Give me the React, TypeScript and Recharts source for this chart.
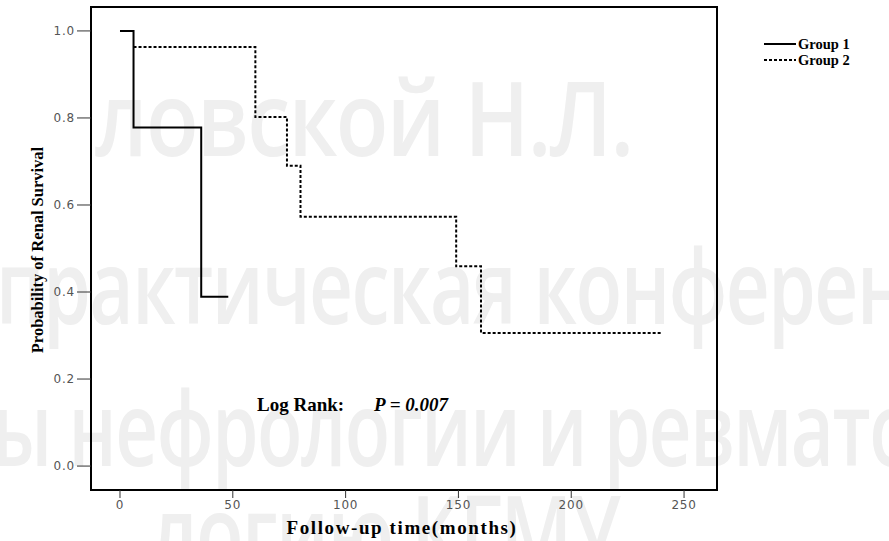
import React from "react";
import { LineChart, Line, XAxis, YAxis, ReferenceArea } from "recharts";

// Kaplan-Meier step points
const group1Times = [0, 6, 36, 48];
const group1Surv = [1.0, 0.778, 0.389, 0.389];
const group2Times = [6, 60, 74, 80, 149, 160, 240];
const group2Surv = [0.963, 0.802, 0.69, 0.573, 0.459, 0.306, 0.306];

const xTicks = [0, 50, 100, 150, 200, 250];
const yTicks = [0, 0.2, 0.4, 0.6, 0.8, 1.0];

// faint background watermark lines
const watermark = [
  { text: "ловской Н.Л.", x: 95, y: 64, sx: 0.83 },
  { text: "практическая конферен", x: -4, y: 232, sx: 0.735 },
  { text: "ы нефрологии и ревмато", x: -8, y: 374, sx: 0.715 },
  { text: "логию КГМУ", x: 150, y: 478, sx: 0.75 },
];

const group1 = group1Times.map((t, i) => ({ t, s: group1Surv[i] }));
const group2 = group2Times.map((t, i) => ({ t, s: group2Surv[i] }));

const serif = "'Liberation Serif', 'Times New Roman', serif";
const tickStyle = { fill: "#555", fontSize: 12, letterSpacing: 0.8, fontFamily: "'DejaVu Sans', sans-serif" };

export default function App() {
  return (
    <div style={{ position: "absolute", left: 0, top: 0, width: 889, height: 541, background: "#fff", overflow: "hidden" }}>
      {watermark.map((w) => (
        <div
          key={w.text}
          style={{
            position: "absolute",
            left: w.x,
            top: w.y,
            fontFamily: "'Open Sans', sans-serif",
            fontWeight: 600,
            fontSize: 104,
            color: "#efefef",
            whiteSpace: "nowrap",
            lineHeight: 1,
            letterSpacing: -2,
            transform: `scaleX(${w.sx})`,
            transformOrigin: "left top",
          }}
        >
          {w.text}
        </div>
      ))}
      <div style={{ position: "absolute", left: 0, top: 0 }}>
        <LineChart width={889} height={541} margin={{ top: 7, right: 172, bottom: 21, left: 41 }}>
          <XAxis
            type="number"
            dataKey="t"
            domain={[-12.85, 264.6]}
            ticks={xTicks}
            allowDataOverflow
            height={30}
            axisLine={false}
            tickLine={{ stroke: "#333" }}
            tickSize={8}
            tick={tickStyle}
          />
          <YAxis
            type="number"
            dataKey="s"
            domain={[-0.055, 1.055]}
            ticks={yTicks}
            allowDataOverflow
            width={50}
            axisLine={false}
            tickLine={{ stroke: "#333" }}
            tickSize={14}
            tick={tickStyle}
            tickFormatter={(v: number) => v.toFixed(1)}
          />
          <ReferenceArea
            x1={-12.85}
            x2={264.6}
            y1={-0.055}
            y2={1.055}
            stroke="#000"
            strokeWidth={2}
            fill="none"
            fillOpacity={0}
          />
          <Line
            data={group1}
            dataKey="s"
            type="stepAfter"
            stroke="#000"
            strokeWidth={2}
            dot={false}
            isAnimationActive={false}
          />
          <Line
            data={group2}
            dataKey="s"
            type="stepAfter"
            stroke="#000"
            strokeWidth={2}
            strokeDasharray="3 2"
            dot={false}
            isAnimationActive={false}
          />
        </LineChart>
      </div>
      <div
        style={{
          position: "absolute",
          left: 38,
          top: 250,
          transform: "translate(-50%, -50%) rotate(-90deg)",
          fontFamily: serif,
          fontWeight: 700,
          fontSize: 16.5,
          whiteSpace: "nowrap",
        }}
      >
        Probability of Renal Survival
      </div>
      <div
        style={{
          position: "absolute",
          left: 402,
          top: 528,
          transform: "translate(-50%, -50%)",
          fontFamily: serif,
          fontWeight: 700,
          fontSize: 19,
          letterSpacing: 1.6,
          whiteSpace: "nowrap",
        }}
      >
        Follow-up time(months)
      </div>
      <div
        style={{
          position: "absolute",
          left: 257,
          top: 405,
          transform: "translateY(-50%)",
          fontFamily: serif,
          fontWeight: 700,
          fontSize: 19,
          whiteSpace: "nowrap",
        }}
      >
        Log Rank:<i style={{ marginLeft: 30 }}>P = 0.007</i>
      </div>
      <div style={{ position: "absolute", left: 763, top: 36, fontFamily: serif, fontWeight: 700, fontSize: 14.5 }}>
        {[
          { name: "Group 1", dash: "none" },
          { name: "Group 2", dash: "3 2" },
        ].map((g) => (
          <div key={g.name} style={{ display: "flex", alignItems: "center", height: 16 }}>
            <svg width={33} height={16}>
              <line x1={1} y1={8} x2={33} y2={8} stroke="#000" strokeWidth={2} strokeDasharray={g.dash} />
            </svg>
            <span style={{ marginLeft: 2 }}>{g.name}</span>
          </div>
        ))}
      </div>
    </div>
  );
}
